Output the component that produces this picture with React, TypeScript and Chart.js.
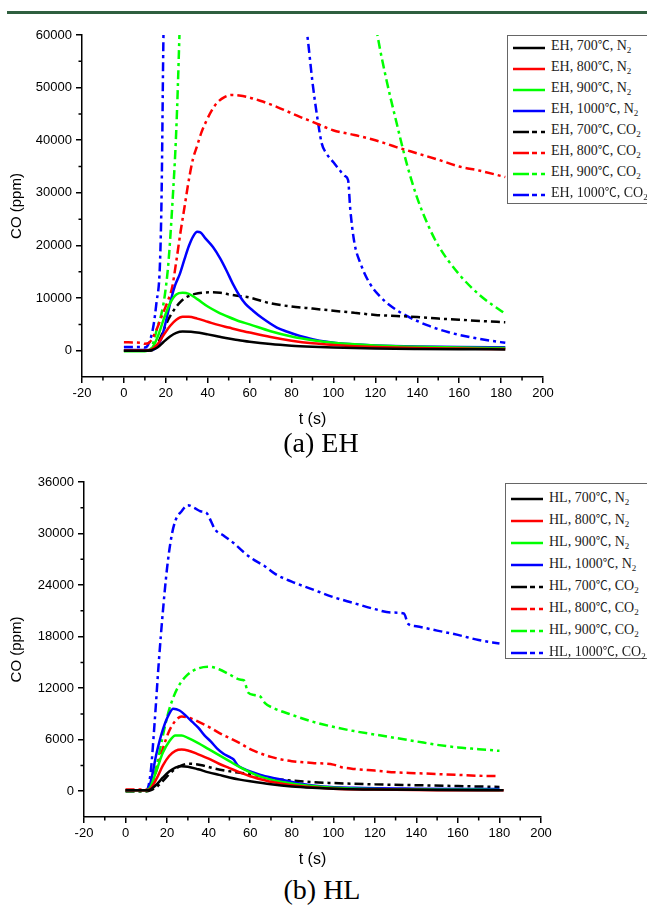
import React, { useEffect, useRef } from 'react';
import { Chart, registerables } from 'chart.js';
Chart.register(...registerables);

type P = [number, number][];

// ---------- (a) EH ----------
const EH_700_N2: P = [[0,0],[10,0],[13,100],[16,600],[19,1700],[22,2700],[25,3400],[28,3650],[32,3600],[36,3400],[40,3100],[45,2700],[50,2300],[55,2000],[60,1700],[70,1250],[80,950],[90,750],[100,600],[120,420],[140,330],[160,280],[182,250]];
const EH_800_N2: P = [[0,50],[10,50],[13,200],[16,1200],[19,3000],[22,4700],[25,5900],[28,6450],[31,6450],[35,6100],[40,5500],[45,4900],[50,4400],[55,3900],[60,3450],[70,2600],[80,1900],[90,1400],[100,1100],[120,700],[140,500],[160,400],[182,300]];
const EH_900_N2: P = [[0,-100],[10,-100],[13,300],[16,2500],[19,6000],[22,9000],[25,10700],[28,11000],[31,10800],[35,9800],[40,8400],[45,7300],[50,6400],[55,5600],[60,5000],[70,3700],[80,2700],[90,2000],[100,1500],[120,1000],[140,750],[160,600],[182,500]];
const EH_1000_N2: P = [[0,150],[12,150],[15,400],[18,2500],[20,5500],[22.8,10200],[24.5,12500],[26.7,14600],[29,17500],[31,19900],[33,21700],[35,22600],[36.5,22500],[39,21300],[42.5,19700],[46,17500],[49,15200],[52,12700],[55.4,10300],[58,8900],[61.6,7600],[66,6200],[73,4400],[78,3600],[84,2800],[90,2200],[96.8,1700],[105,1300],[120,1000],[140,800],[160,700],[182,650]];
const EH_700_CO2: P = [[0,0],[12,0],[15,500],[18,3000],[21,5800],[24,7800],[27,9300],[30,10200],[34,10800],[38,11050],[42,11100],[46,11000],[50,10700],[55,10400],[60,10100],[70,9000],[80,8400],[90,8000],[100,7600],[110,7200],[120,6800],[130,6600],[140,6400],[150,6100],[160,5900],[170,5650],[182,5400]];
const EH_800_CO2: P = [[0,1600],[8,1500],[10,1300],[12,1500],[15,3500],[18,6500],[21,9500],[23,12000],[25,17000],[27,22500],[29,27500],[31,32500],[33,36500],[35,39000],[37,41500],[39.5,43800],[42,45700],[44.2,47000],[48,48200],[51.4,48600],[55,48500],[58.6,48250],[65,47500],[72.9,46350],[84,44440],[90,43500],[99.8,41900],[110,41000],[120,40000],[130,38700],[140,37500],[150,36300],[160,35000],[170,34200],[182,33000]];
const EH_900_CO2: P = [[0,0],[12,0],[14,1500],[16,4500],[17.9,7000],[19.5,10500],[21.2,16500],[23,27000],[25,42000],[26.5,60000],[27.5,75000],[30,90000],[60,100000],[110,90000],[121,60000],[125,52000],[130,43500],[135,35500],[140,29000],[145,24000],[150,20000],[160,14500],[170,10500],[182,7000]];
const EH_1000_CO2: P = [[0,700],[8,700],[10,600],[12,1500],[14,4500],[15.5,9000],[17.2,16500],[18,30000],[18.8,57800],[19.5,75000],[21,95000],[50,110000],[80,80000],[87.5,60000],[90,51000],[92,45100],[94.4,39400],[96.7,37450],[100,35800],[103,34300],[105.5,33200],[107,32400],[108,27000],[110,20500],[113,16500],[117,13000],[122,10400],[128,8300],[135,6600],[145,4800],[155,3500],[165,2600],[175,1900],[182,1500]];

// ---------- (b) HL ----------
const HL_700_N2: P = [[0,100],[10,100],[12,200],[15,800],[18,1600],[21,2300],[24,2750],[27,2900],[30,2850],[35,2550],[40,2200],[45,1900],[50,1600],[55,1350],[60,1150],[70,800],[80,550],[90,400],[100,300],[120,200],[150,150],[182,100]];
const HL_800_N2: P = [[0,100],[10,100],[12,300],[15,1500],[18,3000],[21,4100],[24,4700],[27,4850],[30,4750],[35,4300],[40,3800],[45,3200],[50,2700],[55,2200],[60,1750],[65,1400],[70,1100],[80,700],[90,450],[100,300],[120,200],[150,120],[182,100]];
const HL_900_N2: P = [[0,100],[10,100],[12,500],[15,2500],[18,4500],[21,5800],[24,6500],[27,6500],[30,6200],[35,5600],[40,4900],[45,4200],[50,3500],[55,2800],[60,2200],[65,1700],[70,1350],[80,900],[90,600],[100,400],[120,250],[150,180],[180,150]];
const HL_1000_N2: P = [[0,100],[10,100],[12,1000],[15,4500],[18,7200],[21,9000],[23,9600],[26,9400],[29,8800],[32,8100],[35,7400],[38,6500],[41,5800],[44,5000],[47,4400],[50,4000],[52,3700],[54,3000],[57,2600],[60,2300],[65,1900],[70,1600],[78,1200],[86,800],[95,550],[110,400],[140,300],[180,250]];
const HL_700_CO2: P = [[0,0],[10,0],[12,100],[15,500],[18,1200],[21,2000],[24,2600],[27,3000],[30,3200],[34,3150],[38,2950],[42,2700],[48,2400],[55,2150],[60,2000],[70,1500],[80,1250],[90,1050],[100,950],[120,800],[140,700],[160,600],[180,500]];
const HL_800_CO2: P = [[0,200],[10,200],[12,500],[15,2500],[18,5000],[21,7000],[24,8200],[27,8700],[30,8600],[35,8100],[40,7500],[45,6800],[50,6200],[55,5600],[60,4900],[65,4400],[70,4000],[75,3700],[80,3500],[90,3300],[100,3100],[104,2800],[110,2600],[120,2400],[130,2200],[140,2100],[150,2000],[160,1900],[170,1800],[180,1750]];
const HL_900_CO2: P = [[0,0],[10,0],[12,500],[15,3000],[18,6500],[21,9500],[25,12000],[30,13600],[35,14300],[40,14500],[45,14200],[50,13600],[55,13000],[57,12900],[59,11500],[62,11200],[65,11000],[67,10300],[72,9600],[80,8900],[90,8100],[100,7500],[110,7000],[120,6600],[130,6200],[140,5800],[150,5400],[160,5100],[170,4900],[180,4700]];
const HL_1000_CO2: P = [[0,100],[10,100],[12,2000],[14,8000],[16,15000],[18,21000],[20,26000],[22,29500],[24,31500],[27,32600],[30,33300],[33,33000],[36,32600],[39,32400],[41,31500],[43,30500],[47,29800],[52,28900],[57,27800],[62,26900],[67,26200],[72,25300],[80,24400],[90,23500],[100,22600],[110,21900],[120,21200],[128,20800],[134,20700],[136,19500],[140,19200],[150,18700],[160,18200],[170,17600],[180,17200]];

// ---------- axes ----------
const X_TICKS = [-20, 0, 20, 40, 60, 80, 100, 120, 140, 160, 180, 200];
const X_MINOR = [-10, 10, 30, 50, 70, 90, 110, 130, 150, 170, 190];
const EH_Y_TICKS = [0, 10000, 20000, 30000, 40000, 50000, 60000];
const EH_Y_MINOR = [5000, 15000, 25000, 35000, 45000, 55000];
const HL_Y_TICKS = [0, 6000, 12000, 18000, 24000, 30000, 36000];
const HL_Y_MINOR = [3000, 9000, 15000, 21000, 27000, 33000];

const TEMPS = ['700', '800', '900', '1000'];
const COLORS = ['#000000', '#ff0000', '#00ff00', '#0000ff'];
const GASES = ['N', 'CO'];

const EH_SERIES = [EH_700_N2, EH_800_N2, EH_900_N2, EH_1000_N2, EH_700_CO2, EH_800_CO2, EH_900_CO2, EH_1000_CO2];
const HL_SERIES = [HL_700_N2, HL_800_N2, HL_900_N2, HL_1000_N2, HL_700_CO2, HL_800_CO2, HL_900_CO2, HL_1000_CO2];

const DASH = [9, 4, 3, 4];
const SANS = "'Liberation Sans', Arial, sans-serif";
const SERIF = "'Liberation Serif', 'Times New Roman', serif";

const minorTicks = {
  id: 'minorTicks',
  afterDraw(chart: any, _args: any, opts: any) {
    const { ctx } = chart;
    const xs = chart.scales.x;
    const ys = chart.scales.y;
    ctx.save();
    ctx.strokeStyle = '#000';
    ctx.lineWidth = 1.5;
    ctx.beginPath();
    for (const v of opts.x || []) {
      const px = xs.getPixelForValue(v);
      ctx.moveTo(px, xs.top);
      ctx.lineTo(px, xs.top + 3.5);
    }
    for (const v of opts.y || []) {
      const py = ys.getPixelForValue(v);
      ctx.moveTo(ys.right, py);
      ctx.lineTo(ys.right - 3.5, py);
    }
    ctx.stroke();
    ctx.restore();
  },
};

type ChartProps = {
  prefix: string;
  series: P[];
  yMin: number;
  yMax: number;
  yTicks: number[];
  yMinor: number[];
  top: number;
  padTop: number;
  padRight: number;
  yWidth: number;
};

function LineChart(props: ChartProps) {
  const ref = useRef<HTMLCanvasElement>(null);
  useEffect(() => {
    const { prefix, series, yMin, yMax, yTicks, yMinor, padTop, padRight, yWidth } = props;
    const datasets = series.map((pts, i) => ({
      label: `${prefix}, ${TEMPS[i % 4]}℃, ${GASES[Math.floor(i / 4)]}2`,
      data: pts.map(([x, y]) => ({ x, y })),
      borderColor: COLORS[i % 4],
      backgroundColor: COLORS[i % 4],
      borderWidth: 2.5,
      borderDash: i >= 4 ? DASH : [],
      pointRadius: 0,
      fill: false,
      cubicInterpolationMode: 'monotone' as const,
    }));
    const axisCommon = {
      grid: { drawOnChartArea: false, drawTicks: true, tickLength: 6, color: '#000', lineWidth: 1.5 },
      border: { display: true, color: '#000', width: 1.5 },
    };
    const chart = new Chart(ref.current!, {
      type: 'line',
      data: { datasets },
      options: {
        animation: false,
        responsive: false,
        maintainAspectRatio: false,
        layout: { padding: { top: padTop, right: padRight, left: 0, bottom: 0 } },
        plugins: {
          legend: { display: false },
          tooltip: { enabled: false },
          minorTicks: { x: X_MINOR, y: yMinor },
        } as any,
        scales: {
          x: {
            type: 'linear',
            min: -20,
            max: 200,
            ...axisCommon,
            afterBuildTicks: (s: any) => { s.ticks = X_TICKS.map((v) => ({ value: v })); },
            afterFit: (s: any) => { s.height = 52; },
            ticks: { color: '#000', font: { family: SANS, size: 13 }, padding: 3, maxRotation: 0, autoSkip: false, callback: (v: any) => String(v) },
            title: { display: true, text: 't (s)', color: '#000', font: { family: SANS, size: 16 }, padding: { top: 0, bottom: 0 } },
          },
          y: {
            type: 'linear',
            min: yMin,
            max: yMax,
            ...axisCommon,
            afterBuildTicks: (s: any) => { s.ticks = yTicks.map((v) => ({ value: v })); },
            afterFit: (s: any) => { s.width = yWidth; },
            ticks: { color: '#000', font: { family: SANS, size: 13 }, padding: 4, autoSkip: false, callback: (v: any) => String(v) },
            title: { display: true, text: 'CO (ppm)', color: '#000', font: { family: SANS, size: 15 }, padding: { top: 8, bottom: 0 } },
          },
        },
      },
      plugins: [minorTicks],
    });
    return () => chart.destroy();
  }, []);
  return (
    <canvas
      ref={ref}
      width={647}
      height={409}
      style={{ position: 'absolute', left: 0, top: props.top, width: 647, height: 409 }}
    />
  );
}

function LegendSample({ color, dashed }: { color: string; dashed: boolean }) {
  return (
    <svg width={32} height={8} style={{ display: 'block', flex: '0 0 auto' }}>
      <line x1={0} y1={4} x2={32} y2={4} stroke={color} strokeWidth={2.5} strokeDasharray={dashed ? '16 3 5 4 5 4' : undefined} />
    </svg>
  );
}

function Legend({ prefix, left, top, height, rowH, padTop }: { prefix: string; left: number; top: number; height: number; rowH: number; padTop: number }) {
  const rows = [];
  for (let g = 0; g < 2; g++) {
    for (let i = 0; i < 4; i++) {
      rows.push(
        <div key={`${g}-${i}`} style={{ display: 'flex', alignItems: 'center', height: rowH, whiteSpace: 'nowrap' }}>
          <div style={{ marginLeft: 5 }}>
            <LegendSample color={COLORS[i]} dashed={g === 1} />
          </div>
          <span style={{ marginLeft: 6, fontFamily: SERIF, fontSize: 14, color: '#222', lineHeight: '16px' }}>
            {`${prefix}, ${TEMPS[i]}`}
            <span style={{ fontFamily: "'Noto Sans CJK SC', sans-serif", fontSize: 12 }}>℃</span>
            {`, ${GASES[g]}`}
            <sub style={{ fontSize: 9, verticalAlign: -3 }}>2</sub>
          </span>
        </div>
      );
    }
  }
  return (
    <div
      style={{
        position: 'absolute', left, top, width: 150, height, boxSizing: 'border-box',
        border: '1px solid #666', background: '#fff', paddingTop: padTop, overflow: 'visible',
      }}
    >
      {rows}
    </div>
  );
}

export default function App() {
  return (
    <div style={{ position: 'absolute', left: 0, top: 0, width: 647, height: 905, background: '#fff', overflow: 'hidden' }}>
      <div style={{ position: 'absolute', left: 7, top: 11, width: 640, height: 3, background: '#2f5f3f' }} />
      <LineChart prefix="EH" series={EH_SERIES} yMin={-5000} yMax={60000} yTicks={EH_Y_TICKS} yMinor={EH_Y_MINOR} top={20} padTop={15} padRight={104} yWidth={82} />
      <Legend prefix="EH" left={507} top={35} height={169} rowH={21} padTop={1} />
      <div style={{ position: 'absolute', left: 221, top: 426, width: 200, textAlign: 'center', fontFamily: SERIF, fontSize: 28, lineHeight: '34px', color: '#000' }}>(a) EH</div>
      <LineChart prefix="HL" series={HL_SERIES} yMin={-3000} yMax={36000} yTicks={HL_Y_TICKS} yMinor={HL_Y_MINOR} top={460} padTop={22} padRight={106} yWidth={84} />
      <Legend prefix="HL" left={505} top={483} height={176} rowH={22} padTop={4} />
      <div style={{ position: 'absolute', left: 222, top: 873, width: 200, textAlign: 'center', fontFamily: SERIF, fontSize: 28, lineHeight: '34px', color: '#000' }}>(b) HL</div>
    </div>
  );
}
